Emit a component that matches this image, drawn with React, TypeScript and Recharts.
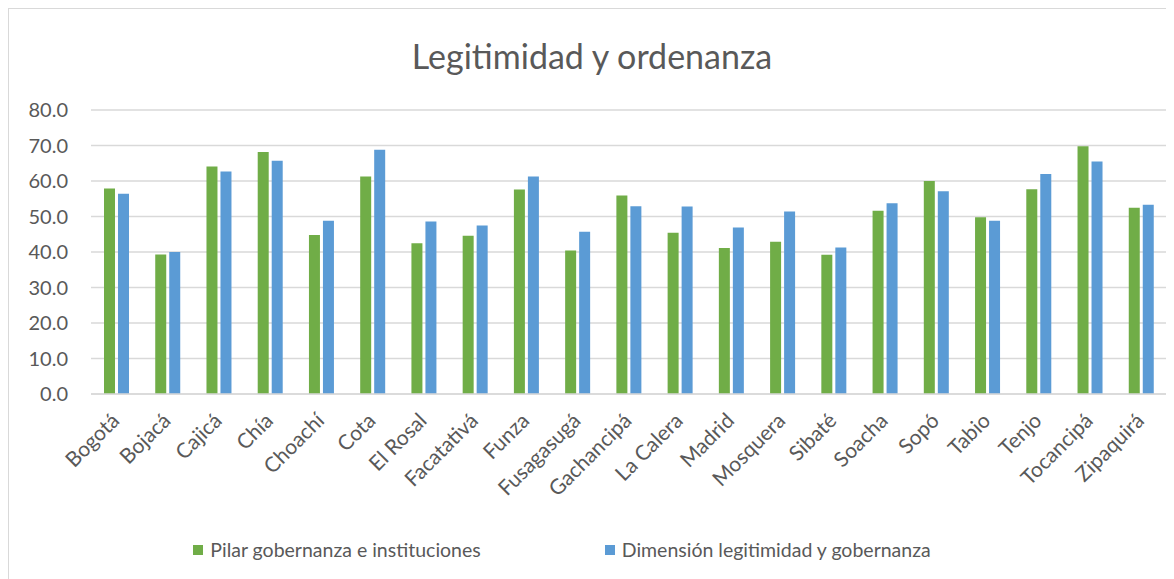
import React from "react";
import { BarChart, Bar, XAxis, YAxis, CartesianGrid, Legend } from "recharts";

const categories = ["Bogotá","Bojacá","Cajicá","Chía","Choachí","Cota","El Rosal","Facatativá","Funza","Fusagasugá","Gachancipá","La Calera","Madrid","Mosquera","Sibaté","Soacha","Sopó","Tabio","Tenjo","Tocancipá","Zipaquirá"];
const pilar = [57.9,39.3,64.1,68.2,44.8,61.3,42.5,44.6,57.6,40.4,55.9,45.4,41.1,42.9,39.2,51.6,60.0,49.8,57.7,69.8,52.5];
const dimension = [56.4,40.0,62.7,65.7,48.8,68.8,48.6,47.5,61.3,45.7,52.9,52.8,46.9,51.4,41.3,53.7,57.1,48.8,62.0,65.5,53.3];
const yTicks = [0,10,20,30,40,50,60,70,80];
const seriesNames = ["Pilar gobernanza e instituciones","Dimensión legitimidad y gobernanza"];
const colors = ["#70AD47","#5B9BD5"];

const data = categories.map((c, i) => ({ name: c, pilar: pilar[i], dimension: dimension[i] }));

const FONT = "Lato, 'Open Sans', sans-serif";
const TEXT = "#595959";

const XTick = (props: any) => {
  const { x, y, payload } = props;
  return (
    <g transform={`translate(${x + 4},${y + 20})`}>
      <text x={0} y={0} textAnchor="end" fill={TEXT} fontSize={21} fontFamily={FONT} transform="rotate(-45)">
        {payload.value}
      </text>
    </g>
  );
};

const LegendContent = () => (
  <div style={{ display: "flex", justifyContent: "center", fontFamily: FONT, fontSize: 19.5, color: TEXT, paddingRight: 52 }}>
    {seriesNames.map((n, i) => (
      <div key={n} style={{ display: "flex", alignItems: "center", marginRight: i === 0 ? 124 : 0 }}>
        <span style={{ display: "inline-block", width: 10, height: 10, background: colors[i], marginRight: 7 }} />
        <span>{n}</span>
      </div>
    ))}
  </div>
);

export default function App() {
  return (
    <div style={{ position: "relative", width: 1170, height: 585, border: "1px solid #d9d9d9", background: "#fff" }}>
      <div style={{ position: "absolute", top: 26, left: 0, width: 1166, textAlign: "center", fontFamily: FONT, fontSize: 34, color: TEXT }}>
        Legitimidad y ordenanza
      </div>
      <BarChart width={1166} height={571} data={data} margin={{ top: 101, right: 8, left: 0, bottom: 19 }} barGap={3} barSize={11}>
        <CartesianGrid vertical={false} stroke="#d9d9d9" strokeWidth={1.5} />
        <XAxis dataKey="name" interval={0} height={144} tick={<XTick />} tickLine={false} axisLine={{ stroke: "#d9d9d9", strokeWidth: 1.5 }} />
        <YAxis width={82} domain={[0, 80]} ticks={yTicks} tickFormatter={(v: number) => v.toFixed(1)} tickLine={false} axisLine={false} tickMargin={17} tick={{ fill: TEXT, fontSize: 20, fontFamily: FONT }} />
        <Legend verticalAlign="bottom" content={<LegendContent />} />
        <Bar dataKey="pilar" name={seriesNames[0]} fill={colors[0]} isAnimationActive={false} />
        <Bar dataKey="dimension" name={seriesNames[1]} fill={colors[1]} isAnimationActive={false} />
      </BarChart>
    </div>
  );
}
